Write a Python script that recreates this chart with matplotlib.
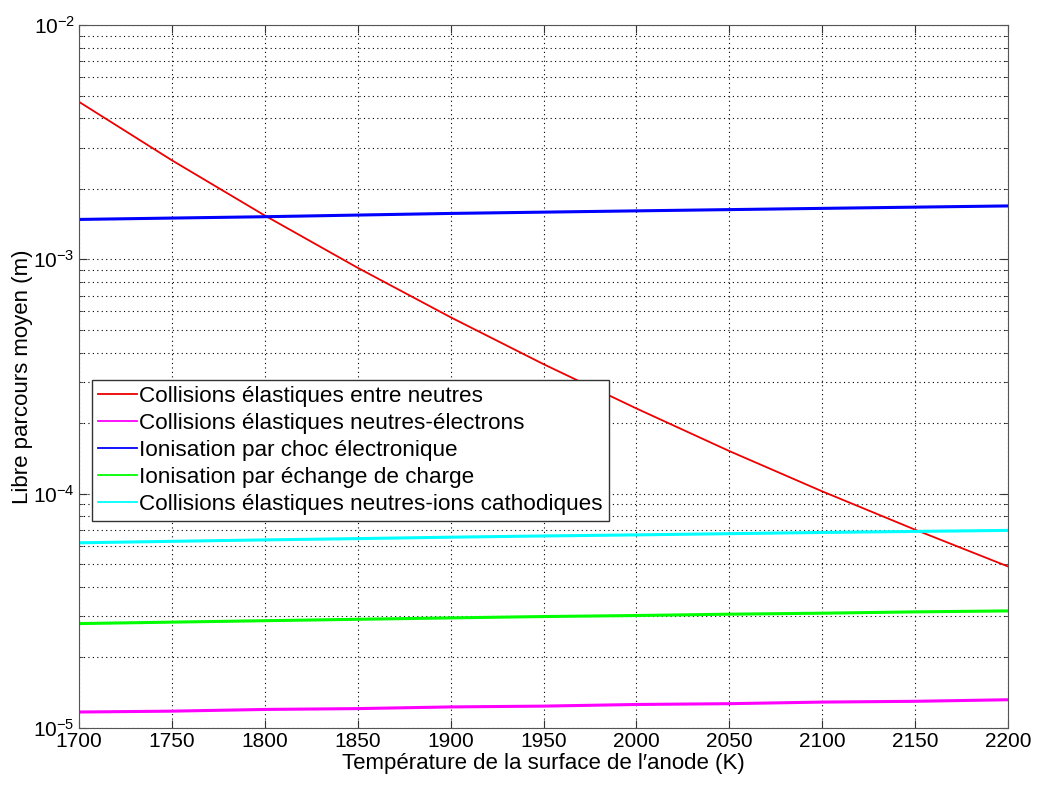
import matplotlib
matplotlib.use("Agg")
import matplotlib.pyplot as plt
from matplotlib.ticker import LogLocator, NullFormatter

plt.rcParams['font.family'] = ['Liberation Sans', 'DejaVu Sans']
plt.rcParams['mathtext.default'] = 'regular'

# temperatures (K)
temp = [1700, 1750, 1800, 1850, 1900, 1950, 2000, 2050, 2100, 2150, 2200]

# mean free paths (m)
neutres = [4.7e-3, 2.646e-3, 1.538e-3, 9.2e-4, 5.66e-4, 3.57e-4, 2.31e-4, 1.52e-4, 1.023e-4, 7.02e-5, 4.89e-5]
electrons = [1.17e-5, 1.18e-5, 1.20e-5, 1.21e-5, 1.23e-5, 1.24e-5, 1.26e-5, 1.27e-5, 1.29e-5, 1.30e-5, 1.32e-5]
choc = [1.48e-3, 1.50e-3, 1.52e-3, 1.545e-3, 1.57e-3, 1.59e-3, 1.61e-3, 1.63e-3, 1.65e-3, 1.67e-3, 1.69e-3]
echange = [2.79e-5, 2.83e-5, 2.87e-5, 2.91e-5, 2.95e-5, 2.99e-5, 3.02e-5, 3.06e-5, 3.09e-5, 3.13e-5, 3.16e-5]
cathodiques = [6.17e-5, 6.26e-5, 6.35e-5, 6.43e-5, 6.52e-5, 6.60e-5, 6.67e-5, 6.75e-5, 6.83e-5, 6.90e-5, 6.97e-5]

labels = ['Collisions élastiques entre neutres',
          'Collisions élastiques neutres-électrons',
          'Ionisation par choc électronique',
          'Ionisation par échange de charge',
          'Collisions élastiques neutres-ions cathodiques']

fig = plt.figure(figsize=(10.37, 7.85), dpi=100)
ax = fig.add_axes([79 / 1037, 1 - 728 / 785, (1008 - 79) / 1037, (728 - 25) / 785])

ax.semilogy(temp, neutres, color='#ee0000', lw=1.3, label=labels[0])
ax.semilogy(temp, electrons, color='#ff00ff', lw=2.2, label=labels[1])
ax.semilogy(temp, choc, color='#0000ff', lw=2.2, label=labels[2])
ax.semilogy(temp, echange, color='#00ff00', lw=2.2, label=labels[3])
ax.semilogy(temp, cathodiques, color='#00ffff', lw=2.2, label=labels[4])

ax.set_xlim(1700, 2200)
ax.set_ylim(1e-5, 1e-2)
ax.set_xticks(range(1700, 2201, 50))
ax.yaxis.set_minor_locator(LogLocator(base=10, subs=range(2, 10)))
ax.yaxis.set_minor_formatter(NullFormatter())

ax.grid(True, which='major', axis='both', color='black', linestyle=(0, (1, 3)), lw=0.8)
ax.grid(True, which='minor', axis='y', color='black', linestyle=(0, (1, 3)), lw=0.8)

ax.tick_params(which='both', direction='in', top=True, right=True, labelsize=15, colors='#333333')
ax.tick_params(labelcolor='black')
ax.tick_params(which='major', length=6, pad=3)
ax.tick_params(which='minor', length=3)
for s in ax.spines.values():
    s.set_color('#555555')

ax.set_xlabel("Température de la surface de l′anode (K)", fontsize=16, labelpad=1)
ax.set_ylabel("Libre parcours moyen (m)", fontsize=16, labelpad=0)

leg = ax.legend(loc='upper left', bbox_to_anchor=(13 / 929, (728 - 380) / 703), fontsize=16.2,
                frameon=True, fancybox=False, edgecolor='#333333', framealpha=1,
                handlelength=1.7, handletextpad=0.1, borderpad=0.28, labelspacing=0.26,
                borderaxespad=0)
leg.get_frame().set_linewidth(1.0)
for h in leg.get_lines():
    h.set_linewidth(1.3)

fig.savefig('out.png', dpi=100)
